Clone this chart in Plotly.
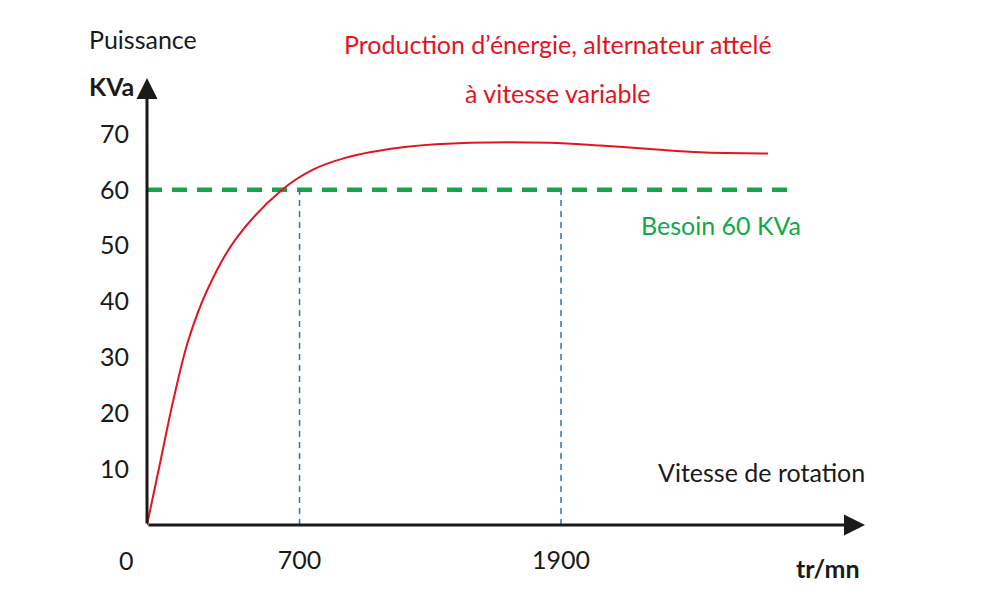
import plotly.graph_objects as go

# Courbe de production (tr/mn -> KVa)
SPEED = [0, 60, 124, 190, 277, 404, 620, 762, 909, 1037, 1193, 1482, 1849,
         2079, 2308, 2538, 2850]
POWER = [0, 11.1, 22.9, 33.1, 42.1, 51.0, 60.0, 63.6, 65.7, 66.8, 67.7, 68.4,
         68.4, 67.9, 67.3, 66.7, 66.5]

NEED = 60
NEED_SPAN = [0, 2983]
MARK_SPEEDS = [700, 1900]

Y_TICKS = [10, 20, 30, 40, 50, 60, 70]
X_TICKS = [700, 1900]
X_TICK_TEXT = ["700", "1900"]

X_MAX = 3295
Y_MAX = 80

FONT = "Lato, sans-serif"
RED = "#E3141E"
GREEN = "#12A84A"
BLUE = "#2E75B6"
AXIS = "#1a1a1a"

fig = go.Figure()

# besoin 60 KVa
fig.add_trace(go.Scatter(
    x=NEED_SPAN, y=[NEED, NEED], mode="lines",
    line=dict(color=GREEN, width=4.5, dash="15px,10px"),
    hoverinfo="skip", showlegend=False,
))

# verticales aux vitesses limites
for s in MARK_SPEEDS:
    fig.add_trace(go.Scatter(
        x=[s, s], y=[0, NEED], mode="lines",
        line=dict(color=BLUE, width=1.5, dash="6px,5px"),
        hoverinfo="skip", showlegend=False,
    ))

fig.add_trace(go.Scatter(
    x=SPEED, y=POWER, mode="lines",
    line=dict(color=RED, width=2, shape="spline", smoothing=1.0),
    hoverinfo="skip", showlegend=False,
))

# axes avec flèches
fig.add_annotation(x=0, y=Y_MAX, ax=0, ay=0, xref="x", yref="y", axref="x", ayref="y",
                   text="", showarrow=True, arrowhead=2, arrowsize=1.4, arrowwidth=3,
                   arrowcolor=AXIS)
fig.add_annotation(x=X_MAX, y=0, ax=0, ay=0, xref="x", yref="y", axref="x", ayref="y",
                   text="", showarrow=True, arrowhead=2, arrowsize=1.4, arrowwidth=3,
                   arrowcolor=AXIS)


def label(x, y, text, color="#1a1a1a", size=25, anchor="center", bold=False):
    # position donnée en unités des axes, placée en coordonnées papier
    # pour rester visible hors de la zone de tracé
    if bold:
        text = f"<b>{text}</b>"
    fig.add_annotation(x=x / X_MAX, y=y / Y_MAX, xref="paper", yref="paper",
                       text=text, showarrow=False,
                       xanchor=anchor, yanchor="middle",
                       font=dict(family=FONT, size=size, color=color))


label(-275, 86.9, "Puissance", anchor="left")
label(-275, 78.5, "KVa", anchor="left", bold=True)
label(1886, 86.0, "Production d’énergie, alternateur attelé", color=RED)
label(1886, 77.4, "à vitesse variable", color=RED)
label(2634, 53.7, "Besoin 60 KVa", color=GREEN)
label(2818, 9.5, "Vitesse de rotation")
label(3281, -7.7, "tr/mn", anchor="right", bold=True)
label(-92, -6.3, "0")

# marges décalées de 8px : la page HTML ajoute sa propre marge
fig.update_layout(
    width=1000, height=614,
    paper_bgcolor="white", plot_bgcolor="white",
    margin=dict(l=139, r=143, t=70, b=97),
    font=dict(family=FONT, size=25, color="#1a1a1a"),
    xaxis=dict(range=[0, X_MAX], tickvals=X_TICKS, ticktext=X_TICK_TEXT,
               showgrid=False, zeroline=False, showline=False, ticks="",
               ticklabelstandoff=18, automargin=False),
    yaxis=dict(range=[0, Y_MAX], tickvals=Y_TICKS, showgrid=False,
               zeroline=False, showline=False, ticks="", ticklabelstandoff=17,
               automargin=False),
)

fig.write_html("out.html")
